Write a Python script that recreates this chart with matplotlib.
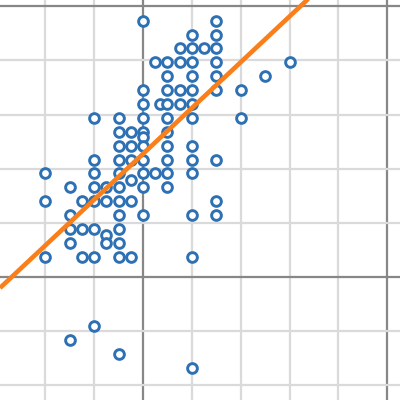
import numpy as np
import matplotlib.pyplot as plt

# scatter points (raw units)
xs = [0, 6,
      4, 6,
      3, 4, 5, 6,
      1, 2, 3, 4, 6, 12,
      2, 4, 6, 10,
      0, 2, 3, 4, 6, 8,
      0, 1.4, 2, 3, 4,
      -4, -2, 0, 2, 4, 8,
      -2, -1, 0, 2,
      0,
      -2, -1, 0, 2, 4,
      -4, -2, -1, 0, 2, 4, 6,
      -8, -4, -2, 0, 1, 2, 4,
      -1,
      -6, -4, -3, -2, 0, 2,
      -8, -5, -4, -3, -2, -1, 6,
      -6, -2, 0, 4, 6,
      -6, -5, -4, -2,
      -3,
      -6, -3, -2,
      -8, -5, -4, -2, -1, 4,
      -4, -6, -2, 4]
ys = [17, 17,
      16, 16,
      15, 15, 15, 15,
      14, 14, 14, 14, 14, 14,
      13, 13, 13, 13,
      12, 12, 12, 12, 12, 12,
      11, 11, 11, 11, 11,
      10, 10, 10, 10, 10, 10,
      9, 9, 9, 9,
      8.6,
      8, 8, 8, 8, 8,
      7, 7, 7, 7, 7, 7, 7,
      6, 6, 6, 6, 6, 6, 6,
      5.5,
      5, 5, 5, 5, 5, 5,
      4, 4, 4, 4, 4, 4, 4,
      3, 3, 3, 3, 3,
      2, 2, 2, 2,
      1.6,
      1, 1, 1,
      0, 0, 0, 0, 0, 0,
      -5, -6, -7, -8]

# fitted line
slope = 0.825
intercept = 7.41

xlim = (-11.71, 21.04)
ylim = (-10.32, 18.49)

fig = plt.figure(figsize=(4, 4), dpi=100)
ax = fig.add_axes([0, 0, 1, 1])
ax.set_xlim(*xlim)
ax.set_ylim(*ylim)

# grid: minor every 4 in x, every 3.9 in y; darker lines at the axes
gx = np.arange(-8, 21, 4)
gy = -1.46 + 3.9 * np.arange(-2, 6)
for v in gx:
    dark = v in (0, 20)
    ax.axvline(v, color="#878787" if dark else "#dadada", lw=1.6, zorder=1)
for k, v in enumerate(gy):
    dark = k in (2, 7)
    ax.axhline(v, color="#878787" if dark else "#dadada", lw=1.6, zorder=1)

ax.plot(xs, ys, "o", ms=7, mew=2.1, mec="#2d70b3", mfc="white", zorder=3)

lx = np.array(xlim)
ax.plot(lx, intercept + slope * lx, color="#fa7e19", lw=3.3, zorder=4, solid_capstyle="butt")

ax.set_xticks([])
ax.set_yticks([])
for s in ax.spines.values():
    s.set_visible(False)

fig.savefig("out.png", dpi=100)
